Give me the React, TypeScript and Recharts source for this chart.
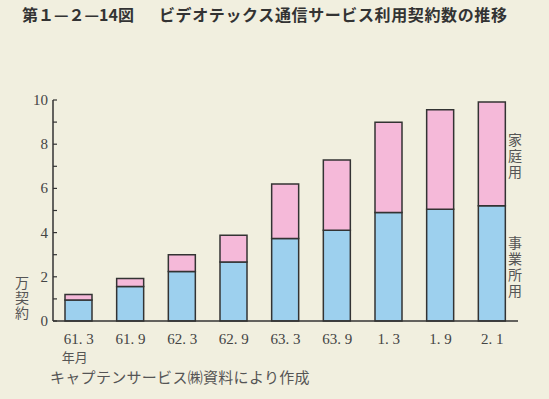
import { Bar, BarChart, XAxis, YAxis } from 'recharts'

const periods = ['61. 3', '61. 9', '62. 3', '62. 9', '63. 3', '63. 9', '1. 3', '1. 9', '2. 1']
const business = [0.95, 1.56, 2.24, 2.67, 3.73, 4.11, 4.91, 5.06, 5.21]
const household = [0.25, 0.36, 0.76, 1.21, 2.47, 3.17, 4.08, 4.5, 4.7]
const yTicks = [0, 1, 2, 3, 4, 5, 6, 7, 8, 9, 10]

const data = periods.map((p, i) => ({ period: p, business: business[i], household: household[i] }))

const serif = '"Liberation Serif", "DejaVu Serif", serif'
const jp = '"Noto Sans CJK JP", sans-serif'
const ink = '#333333'

const YTick = ({ x, y, payload }: any) => (
  <g>
    <line x1={x} x2={x + 4} y1={y} y2={y} stroke={ink} strokeWidth={1.2} />
    {payload.value % 2 === 0 && (
      <text x={x - 5} y={y} dy={5} textAnchor="end" fontFamily={serif} fontSize={15} fill="#444">
        {payload.value}
      </text>
    )}
  </g>
)

// first tick also carries the 年月 unit line under it
const XTick = ({ x, y, payload, index }: any) => (
  <text x={x} y={y} textAnchor="middle" fontFamily={serif} fontSize={15} fill="#444">
    <tspan x={x} dy={15}>{payload.value}</tspan>
    {index === 0 && (
      <tspan x={x - 4} dy={18} fontFamily={jp} fontSize={13} fill="#555">
        年月
      </tspan>
    )}
  </text>
)

// vertical caption, one text element with vertical writing
const Vertical = ({ text, x, y, gap }: { text: string; x: number; y: number; gap: number }) => (
  <div
    style={{
      position: 'absolute',
      left: x - 8,
      top: y,
      writingMode: 'vertical-rl',
      fontSize: 14,
      lineHeight: '16px',
      letterSpacing: gap,
      fontFamily: jp,
      color: '#555',
    }}
  >
    {text}
  </div>
)

export default function App() {
  return (
    <div style={{ position: 'fixed', left: 0, top: 0, width: 549, height: 399, background: '#f1efdf', overflow: 'hidden' }}>
      <svg width={549} height={30} style={{ position: 'absolute', left: 0, top: 0 }}>
        <text x={22} y={21} fontFamily={jp} fontWeight="bold" fontSize={16} fill="#333">
          第１—２—14図
        </text>
        <text x={159} y={21} fontFamily={jp} fontWeight="bold" fontSize={16} fill="#333" textLength={348} lengthAdjust="spacing">
          ビデオテックス通信サービス利用契約数の推移
        </text>
      </svg>
      <BarChart
        width={549}
        height={399}
        data={data}
        margin={{ top: 100, right: 31, bottom: 0, left: 13 }}
        barSize={27}
        style={{ position: 'absolute', left: 0, top: 0 }}
      >
        <XAxis
          dataKey="period"
          axisLine={{ stroke: ink, strokeWidth: 1.5 }}
          tickLine={false}
          tick={<XTick />}
          interval={0}
          height={78}
        />
        <YAxis
          domain={[0, 10]}
          ticks={yTicks}
          interval={0}
          width={40}
          tickSize={0}
          tickMargin={0}
          axisLine={{ stroke: ink, strokeWidth: 1.5 }}
          tickLine={false}
          tick={<YTick />}
        />
        <Bar dataKey="business" stackId="a" fill="#9dd0ee" stroke={ink} strokeWidth={1.5} isAnimationActive={false} />
        <Bar dataKey="household" stackId="a" fill="#f5b9d9" stroke={ink} strokeWidth={1.5} isAnimationActive={false} />
      </BarChart>
      <Vertical text="万契約" x={22} y={276} gap={1} />
      <Vertical text="家庭用" x={515} y={133} gap={2} />
      <Vertical text="事業所用" x={515} y={236} gap={2} />
      <div style={{ position: 'absolute', left: 50, top: 368, fontSize: 15, fontFamily: jp, color: '#555', lineHeight: '18px', letterSpacing: 0.3 }}>
        キャプテンサービス㈱資料により作成
      </div>
    </div>
  )
}
